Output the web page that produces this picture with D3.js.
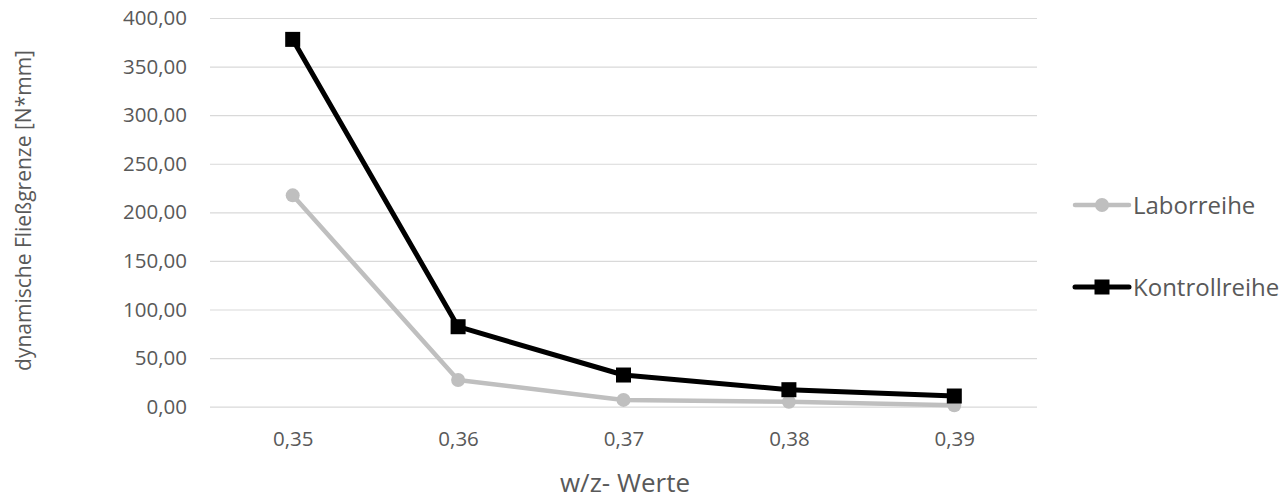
<!DOCTYPE html>
<html>
<head>
<meta charset="utf-8">
<script src="https://cdn.jsdelivr.net/npm/d3@7"></script>
<style>
  body { margin: 0; background: #fff; }
  svg { display: block; }
</style>
</head>
<body>
<div class="chart"></div>
<script>
const WIDTH = 1288;
const HEIGHT = 499;
const FONT = '"Open Sans", "Noto Sans", sans-serif';
const TEXT_COLOR = '#595959';

// plot area
const LEFT = 210, RIGHT = 1037, TOP = 18, BOTTOM = 406.7;

var categories = ["0,35", "0,36", "0,37", "0,38", "0,39"];
var laborreihe = [217.5, 27.5, 7.0, 5.0, 1.5];
var kontrollreihe = [378.0, 82.3, 32.6, 17.5, 11.0];
var yTicks = [0, 50, 100, 150, 200, 250, 300, 350, 400];

var series = [
    { name: "Laborreihe", values: laborreihe, color: "#bfbfbf", marker: "circle" },
    { name: "Kontrollreihe", values: kontrollreihe, color: "#000000", marker: "square" }
];

var _svg = d3.select('.chart').append('svg')
    .attr('width', WIDTH)
    .attr('height', HEIGHT);

var _xScale = d3.scalePoint()
    .domain(categories)
    .range([LEFT, RIGHT])
    .padding(0.5);

var _yScale = d3.scaleLinear()
    .domain([0, 400])
    .range([BOTTOM, TOP]);

var fmt = function (v) { return d3.format(".2f")(v).replace(".", ","); };

var styleTicks = function (g) {
    g.attr('font-family', FONT).attr('font-size', 20.5);
    g.selectAll('.tick text').attr('fill', TEXT_COLOR);
    g.select('.domain').remove();
};

// y axis: gridlines + labels
var yAxis = d3.axisLeft(_yScale)
    .tickValues(yTicks)
    .tickSize(-(RIGHT - LEFT))
    .tickPadding(23)
    .tickFormat(fmt);

_svg.append('g')
    .attr('transform', 'translate(' + LEFT + ',0)')
    .call(yAxis)
    .call(styleTicks)
    .call(function (g) {
        g.selectAll('.tick line').attr('stroke', '#d9d9d9').attr('stroke-width', 1.2);
    });

// x axis labels
var xAxis = d3.axisBottom(_xScale).tickSize(0).tickPadding(25);
_svg.append('g')
    .attr('transform', 'translate(0,' + BOTTOM + ')')
    .call(xAxis)
    .call(styleTicks);

// axis titles
_svg.append('text')
    .attr('transform', 'translate(31,210.5) rotate(-90)')
    .attr('text-anchor', 'middle')
    .attr('font-family', FONT).attr('font-size', 21).attr('fill', TEXT_COLOR)
    .text('dynamische Fließgrenze [N*mm]');

_svg.append('text')
    .attr('x', 625)
    .attr('y', 492)
    .attr('text-anchor', 'middle')
    .attr('font-family', FONT).attr('font-size', 26).attr('fill', TEXT_COLOR)
    .text('w/z- Werte');

var line = d3.line()
    .x(function (d, i) { return _xScale(categories[i]); })
    .y(function (d) { return _yScale(d); });

var drawMarker = function (g, s, x, y) {
    if (s.marker === "circle") {
        g.append('circle').attr('cx', x).attr('cy', y).attr('r', 7).attr('fill', s.color);
    } else {
        g.append('rect').attr('x', x - 7.5).attr('y', y - 7.5)
            .attr('width', 15).attr('height', 15).attr('fill', s.color);
    }
};

series.forEach(function (s) {
    var g = _svg.append('g');
    g.append('path')
        .attr('d', line(s.values))
        .attr('fill', 'none')
        .attr('stroke', s.color)
        .attr('stroke-width', s.marker === "circle" ? 4.5 : 5)
        .attr('stroke-linejoin', 'round');
    s.values.forEach(function (v, i) {
        drawMarker(g, s, _xScale(categories[i]), _yScale(v));
    });
});

// legend
var legendY = [205, 287];
series.forEach(function (s, i) {
    var g = _svg.append('g');
    g.append('line')
        .attr('x1', 1075).attr('x2', 1129)
        .attr('y1', legendY[i]).attr('y2', legendY[i])
        .attr('stroke', s.color).attr('stroke-width', s.marker === "circle" ? 4.5 : 5)
        .attr('stroke-linecap', 'round');
    drawMarker(g, s, 1102, legendY[i]);
    g.append('text')
        .attr('x', 1133)
        .attr('y', legendY[i] + 9)
        .attr('font-family', FONT).attr('font-size', 24).attr('fill', TEXT_COLOR)
        .text(s.name);
});
</script>
</body>
</html>
